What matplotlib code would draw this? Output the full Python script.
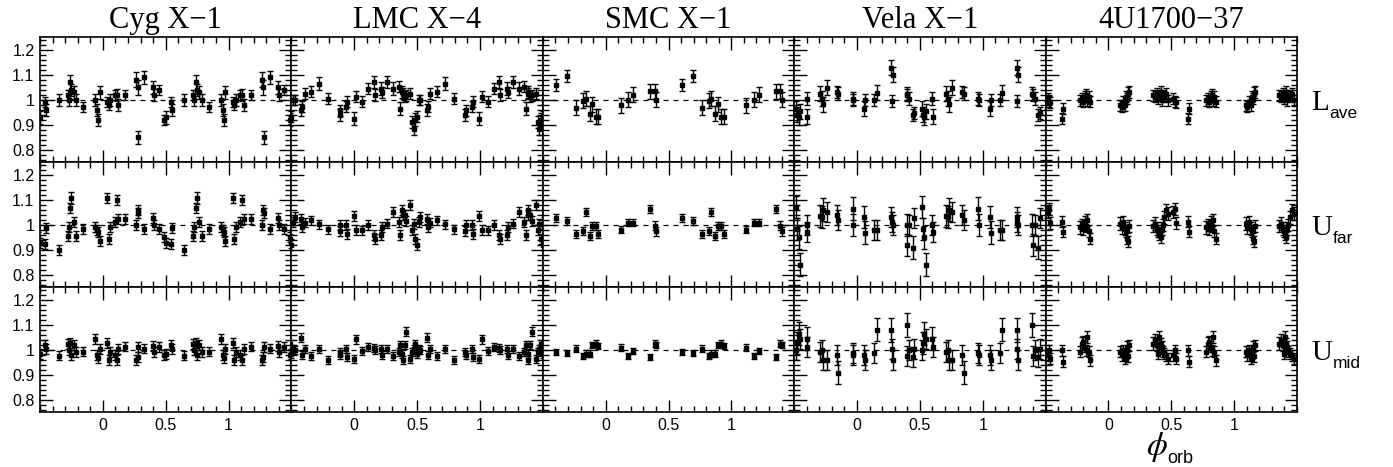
import matplotlib
matplotlib.use("Agg")
import matplotlib.pyplot as plt
import numpy as np
from matplotlib.ticker import FixedLocator, MultipleLocator, FormatStrFormatter

plt.rcParams['font.family'] = ['Liberation Sans', 'DejaVu Sans']
plt.rcParams['mathtext.fontset'] = 'stix'

# ---- data (orbital phase in [0,1), normalised values, 1-sigma errors) ----
sources = ['Cyg X\u22121', 'LMC X\u22124', 'SMC X\u22121', 'Vela X\u22121', '4U1700\u221237']
row_names = [('L', 'ave'), ('U', 'far'), ('U', 'mid')]

cyg_phase = [0.034, 0.045, 0.060, 0.095, 0.110, 0.124, 0.177, 0.265, 0.278, 0.283,
             0.328, 0.397, 0.405, 0.444, 0.487, 0.500, 0.542, 0.548, 0.648, 0.720,
             0.728, 0.741, 0.749, 0.767, 0.786, 0.841, 0.939, 0.952, 0.960, 0.974]
cyg_lave = [0.990, 0.980, 1.000, 1.020, 1.020, 0.980, 1.020, 1.080, 1.050, 0.850,
            1.090, 1.050, 1.020, 1.040, 0.920, 0.930, 0.990, 0.960, 1.000, 1.020,
            1.000, 1.070, 1.040, 1.030, 1.000, 0.970, 1.000, 0.960, 0.920, 1.030]
cyg_lave_err = [0.020, 0.020, 0.025, 0.020, 0.025, 0.025, 0.020, 0.030, 0.030, 0.025,
                0.025, 0.025, 0.025, 0.020, 0.020, 0.025, 0.020, 0.025, 0.025, 0.020,
                0.025, 0.030, 0.025, 0.025, 0.025, 0.020, 0.025, 0.025, 0.025, 0.025]
cyg_ufar = [1.107, 0.945, 0.993, 1.013, 1.100, 1.025, 1.025, 1.000, 1.059, 1.049,
            0.983, 1.029, 0.999, 0.985, 0.952, 0.928, 0.925, 0.988, 0.901, 0.957,
            0.990, 1.067, 1.107, 1.013, 0.957, 0.984, 0.993, 0.979, 0.971, 0.935]
cyg_ufar_err = [0.020, 0.020, 0.020, 0.020, 0.020, 0.020, 0.020, 0.020, 0.020, 0.020,
                0.020, 0.020, 0.020, 0.020, 0.020, 0.020, 0.020, 0.020, 0.020, 0.020,
                0.020, 0.020, 0.025, 0.020, 0.020, 0.020, 0.020, 0.020, 0.020, 0.020]
cyg_umid = [1.029, 0.959, 0.992, 0.979, 0.959, 1.005, 1.012, 0.959, 0.972, 1.012,
            1.005, 1.016, 0.992, 1.012, 0.979, 0.985, 1.021, 1.005, 0.976, 1.025,
            1.000, 1.029, 0.979, 1.019, 0.992, 0.992, 1.043, 0.979, 0.968, 1.003]
cyg_umid_err = [0.020, 0.020, 0.020, 0.020, 0.020, 0.020, 0.018, 0.020, 0.020, 0.020,
                0.018, 0.020, 0.020, 0.020, 0.020, 0.020, 0.020, 0.020, 0.018, 0.020,
                0.020, 0.020, 0.020, 0.020, 0.020, 0.018, 0.020, 0.020, 0.020, 0.020]

lmc_phase = [0.016, 0.061, 0.109, 0.154, 0.162, 0.212, 0.220, 0.260, 0.308, 0.353,
             0.366, 0.379, 0.385, 0.401, 0.411, 0.446, 0.459, 0.472, 0.485, 0.499,
             0.512, 0.525, 0.578, 0.584, 0.605, 0.658, 0.721, 0.790, 0.883, 0.889,
             0.936, 0.942, 0.995]
lmc_lave = [1.012, 0.992, 1.045, 1.072, 1.019, 1.045, 1.030, 1.072, 1.045, 1.052,
            0.965, 1.032, 1.025, 1.012, 1.019, 1.025, 0.912, 0.885, 0.921, 0.932,
            0.999, 0.999, 0.959, 0.972, 1.025, 1.032, 1.065, 1.005, 0.939, 0.959,
            0.972, 0.992, 0.925]
lmc_lave_err = [0.022, 0.022, 0.022, 0.025, 0.025, 0.025, 0.022, 0.025, 0.025, 0.022,
                0.025, 0.025, 0.022, 0.022, 0.022, 0.022, 0.025, 0.025, 0.025, 0.022,
                0.020, 0.020, 0.025, 0.022, 0.022, 0.022, 0.025, 0.022, 0.025, 0.022,
                0.022, 0.022, 0.025]
lmc_ufar = [0.979, 0.979, 0.999, 0.961, 0.945, 0.959, 0.992, 1.005, 1.052, 1.012,
            0.959, 1.059, 1.039, 1.039, 1.015, 1.079, 0.979, 1.005, 0.945, 0.921,
            1.012, 1.032, 1.025, 0.992, 1.008, 1.019, 1.003, 0.983, 0.975, 0.999,
            0.999, 0.963, 1.035]
lmc_ufar_err = [0.020, 0.018, 0.020, 0.020, 0.020, 0.020, 0.020, 0.018, 0.020, 0.020,
                0.020, 0.020, 0.020, 0.020, 0.020, 0.020, 0.020, 0.020, 0.020, 0.022,
                0.020, 0.020, 0.020, 0.020, 0.018, 0.018, 0.018, 0.018, 0.020, 0.020,
                0.020, 0.020, 0.020]
lmc_umid = [1.043, 0.995, 1.012, 1.008, 0.999, 1.005, 0.979, 1.005, 0.976, 0.992,
            1.019, 0.985, 0.959, 1.021, 1.072, 0.965, 0.992, 1.005, 1.025, 0.985,
            1.005, 0.999, 1.048, 0.979, 1.003, 0.976, 1.005, 0.959, 0.992, 0.979,
            1.005, 0.972, 0.963]
lmc_umid_err = [0.018, 0.016, 0.016, 0.016, 0.016, 0.016, 0.016, 0.016, 0.016, 0.016,
                0.016, 0.016, 0.016, 0.016, 0.018, 0.016, 0.016, 0.016, 0.016, 0.016,
                0.016, 0.016, 0.018, 0.016, 0.016, 0.016, 0.016, 0.016, 0.016, 0.016,
                0.016, 0.016, 0.016]

smc_phase = [0.119, 0.178, 0.218, 0.355, 0.390, 0.403, 0.607, 0.695, 0.767, 0.820,
             0.841, 0.873, 0.894, 0.920, 0.939]
smc_lave = [0.979, 1.000, 1.020, 1.035, 1.035, 1.000, 1.059, 1.096, 0.968, 0.996,
            1.005, 0.945, 0.983, 0.932, 0.932]
smc_lave_err = [0.030, 0.030, 0.030, 0.030, 0.030, 0.030, 0.025, 0.025, 0.030, 0.030,
                0.030, 0.030, 0.030, 0.030, 0.030]
smc_ufar = [0.981, 1.009, 1.009, 1.063, 0.996, 0.975, 1.028, 1.016, 0.963, 0.975,
            1.052, 0.956, 0.995, 0.995, 0.963]
smc_ufar_err = [0.015, 0.015, 0.015, 0.015, 0.018, 0.018, 0.015, 0.015, 0.015, 0.015,
                0.015, 0.015, 0.015, 0.015, 0.015]
smc_umid = [1.009, 0.975, 0.996, 0.972, 1.025, 1.019, 0.992, 0.988, 1.005, 0.975,
            0.985, 0.985, 1.019, 1.025, 1.015]
smc_umid_err = [0.013, 0.013, 0.013, 0.013, 0.015, 0.013, 0.013, 0.013, 0.013, 0.013,
                0.013, 0.013, 0.013, 0.013, 0.013]

vela_phase = [0.056, 0.064, 0.135, 0.156, 0.271, 0.276, 0.284, 0.395, 0.400, 0.414,
              0.443, 0.454, 0.515, 0.525, 0.535, 0.545, 0.600, 0.602, 0.706, 0.724,
              0.732, 0.759, 0.838, 0.851, 0.966, 0.971]
vela_lave = [0.965, 0.999, 0.999, 1.028, 1.129, 0.996, 1.101, 1.025, 1.019, 1.005,
             0.939, 0.948, 0.965, 0.940, 0.930, 0.955, 1.005, 0.932, 1.025, 1.005,
             0.983, 1.049, 1.032, 1.025, 1.005, 1.000]
vela_lave_err = [0.030, 0.025, 0.025, 0.030, 0.030, 0.025, 0.030, 0.025, 0.025, 0.025,
                 0.025, 0.025, 0.030, 0.030, 0.030, 0.030, 0.025, 0.030, 0.030, 0.030,
                 0.030, 0.030, 0.025, 0.025, 0.025, 0.025]
vela_ufar = [1.032, 0.969, 0.981, 0.981, 1.032, 1.012, 1.000, 0.999, 0.919, 0.999,
             0.909, 1.029, 1.072, 0.983, 0.950, 0.841, 0.999, 0.972, 1.035, 1.032,
             1.061, 1.052, 1.041, 1.021, 1.065, 0.999]
vela_ufar_err = [0.045, 0.045, 0.040, 0.040, 0.040, 0.040, 0.040, 0.045, 0.045, 0.040,
                 0.045, 0.040, 0.045, 0.045, 0.045, 0.045, 0.040, 0.040, 0.045, 0.045,
                 0.045, 0.040, 0.040, 0.040, 0.045, 0.045]
vela_umid = [0.979, 0.961, 0.988, 1.081, 1.079, 1.005, 0.961, 1.099, 0.975, 0.999,
             0.972, 1.005, 1.001, 1.028, 1.065, 1.045, 1.045, 1.012, 0.992, 0.999,
             0.959, 0.959, 0.979, 0.909, 0.988, 0.979]
vela_umid_err = [0.040, 0.040, 0.040, 0.047, 0.047, 0.040, 0.040, 0.047, 0.040, 0.040,
                 0.040, 0.040, 0.040, 0.045, 0.045, 0.040, 0.045, 0.040, 0.040, 0.040,
                 0.040, 0.040, 0.040, 0.045, 0.040, 0.040]

u17_phase = [0.093, 0.106, 0.119, 0.133, 0.141, 0.151, 0.159, 0.167, 0.358, 0.371,
             0.385, 0.398, 0.406, 0.416, 0.424, 0.432, 0.443, 0.459, 0.477, 0.517,
             0.530, 0.538, 0.629, 0.637, 0.775, 0.788, 0.800, 0.812, 0.820, 0.830,
             0.842, 0.854]
u17_lave = [0.979, 0.972, 0.992, 0.979, 1.012, 1.005, 1.025, 1.032, 1.019, 1.012,
            1.025, 1.005, 1.019, 1.032, 0.999, 1.019, 1.012, 1.025, 0.999, 1.005,
            0.992, 0.990, 0.925, 0.965, 0.999, 1.005, 0.992, 1.012, 1.019, 0.999,
            1.012, 0.992]
u17_lave_err = [0.022, 0.022, 0.022, 0.022, 0.022, 0.022, 0.025, 0.025, 0.022, 0.022,
                0.022, 0.022, 0.022, 0.025, 0.022, 0.022, 0.022, 0.022, 0.022, 0.022,
                0.022, 0.022, 0.022, 0.022, 0.022, 0.022, 0.022, 0.022, 0.025, 0.022,
                0.022, 0.022]
u17_ufar = [1.005, 0.990, 1.012, 0.985, 0.975, 0.945, 0.935, 0.995, 0.995, 1.005,
            0.985, 0.975, 0.960, 0.950, 0.985, 1.000, 1.030, 1.059, 1.045, 1.052,
            1.063, 1.008, 1.012, 0.972, 0.990, 1.000, 0.985, 1.010, 0.995, 1.020,
            0.975, 0.945]
u17_ufar_err = [0.025, 0.025, 0.025, 0.025, 0.025, 0.022, 0.022, 0.025, 0.025, 0.025,
                0.025, 0.025, 0.022, 0.022, 0.025, 0.025, 0.025, 0.025, 0.025, 0.025,
                0.025, 0.025, 0.022, 0.022, 0.025, 0.025, 0.025, 0.025, 0.025, 0.025,
                0.025, 0.022]
u17_umid = [0.992, 0.979, 0.999, 0.965, 0.985, 1.012, 0.975, 1.019, 1.025, 1.039,
            1.019, 0.985, 1.052, 1.025, 1.012, 0.992, 0.985, 0.979, 0.965, 0.979,
            0.999, 0.965, 0.999, 0.952, 0.992, 1.025, 1.032, 1.012, 0.999, 1.052,
            0.992, 0.959]
u17_umid_err = [0.022, 0.022, 0.022, 0.022, 0.022, 0.022, 0.025, 0.022, 0.025, 0.025,
                0.022, 0.022, 0.025, 0.022, 0.022, 0.022, 0.022, 0.022, 0.022, 0.022,
                0.022, 0.022, 0.022, 0.022, 0.022, 0.025, 0.025, 0.022, 0.022, 0.025,
                0.022, 0.022]

panels = [
    (cyg_phase, [(cyg_lave, cyg_lave_err), (cyg_ufar, cyg_ufar_err), (cyg_umid, cyg_umid_err)]),
    (lmc_phase, [(lmc_lave, lmc_lave_err), (lmc_ufar, lmc_ufar_err), (lmc_umid, lmc_umid_err)]),
    (smc_phase, [(smc_lave, smc_lave_err), (smc_ufar, smc_ufar_err), (smc_umid, smc_umid_err)]),
    (vela_phase, [(vela_lave, vela_lave_err), (vela_ufar, vela_ufar_err), (vela_umid, vela_umid_err)]),
    (u17_phase, [(u17_lave, u17_lave_err), (u17_ufar, u17_ufar_err), (u17_umid, u17_umid_err)]),
]

# ---- layout in pixels ----
W, H = 1393, 467
fig = plt.figure(figsize=(W / 100, H / 100), dpi=100)
x0, pw = 40.0, 251.4
y0, ph = 37.3, 125.0

for col, (phase, rows) in enumerate(panels):
    phase = np.array(phase)
    for r, (vals, errs) in enumerate(rows):
        ax = fig.add_axes([(x0 + col * pw) / W, 1 - (y0 + (r + 1) * ph) / H, pw / W, ph / H])
        ax.axhline(1.0, color='k', lw=0.9, ls=(0, (4, 4)), zorder=1)
        # folded phase shown over two cycles
        for shift in (-1, 0, 1):
            ax.errorbar(phase + shift, vals, yerr=errs, fmt='s', ms=2.5, color='k',
                        mfc='k', mec='k', elinewidth=1.0, capsize=2, capthick=1.0, zorder=3)
        ax.set_xlim(-0.5, 1.5)
        ax.set_ylim(0.75, 1.25)
        ax.xaxis.set_major_locator(FixedLocator([0, 0.5, 1]))
        ax.xaxis.set_minor_locator(MultipleLocator(0.1))
        ax.yaxis.set_major_locator(FixedLocator([0.8, 0.9, 1.0, 1.1, 1.2]))
        ax.yaxis.set_minor_locator(MultipleLocator(0.02))
        ax.xaxis.set_major_formatter(FormatStrFormatter('%g'))
        ax.yaxis.set_major_formatter(FormatStrFormatter('%g'))
        ax.tick_params(which='both', direction='in', top=True, right=True, width=1.0,
                       labelsize=11.5, pad=4)
        ax.tick_params(which='major', length=9)
        ax.tick_params(which='minor', length=4.5)
        ax.tick_params(labelbottom=(r == 2), labelleft=(col == 0))
        for sp in ax.spines.values():
            sp.set_linewidth(1.2)

# column titles
for col, name in enumerate(sources):
    cx = x0 + (col + 0.5) * pw
    fig.text(cx / W, 1 - 28 / H, name, ha='center', va='baseline',
             family='Liberation Serif', size=22)

# row labels on the right
for r, (main, sub) in enumerate(row_names):
    cy = y0 + (r + 0.5) * ph
    fig.text(1311 / W, 1 - (cy + 10) / H, main, ha='left', va='baseline',
             family='Liberation Serif', size=21)
    fig.text((1311 + (18 if main == 'L' else 22)) / W, 1 - (cy + 18) / H, sub,
             ha='left', va='baseline', size=12.5)

# x-axis label under the last column
fig.text(1146 / W, 1 - 455 / H, r'$\phi$', ha='left', va='baseline', size=24)
fig.text(1167 / W, 1 - 463 / H, 'orb', ha='left', va='baseline', size=13)

fig.savefig('out.png', dpi=100)
